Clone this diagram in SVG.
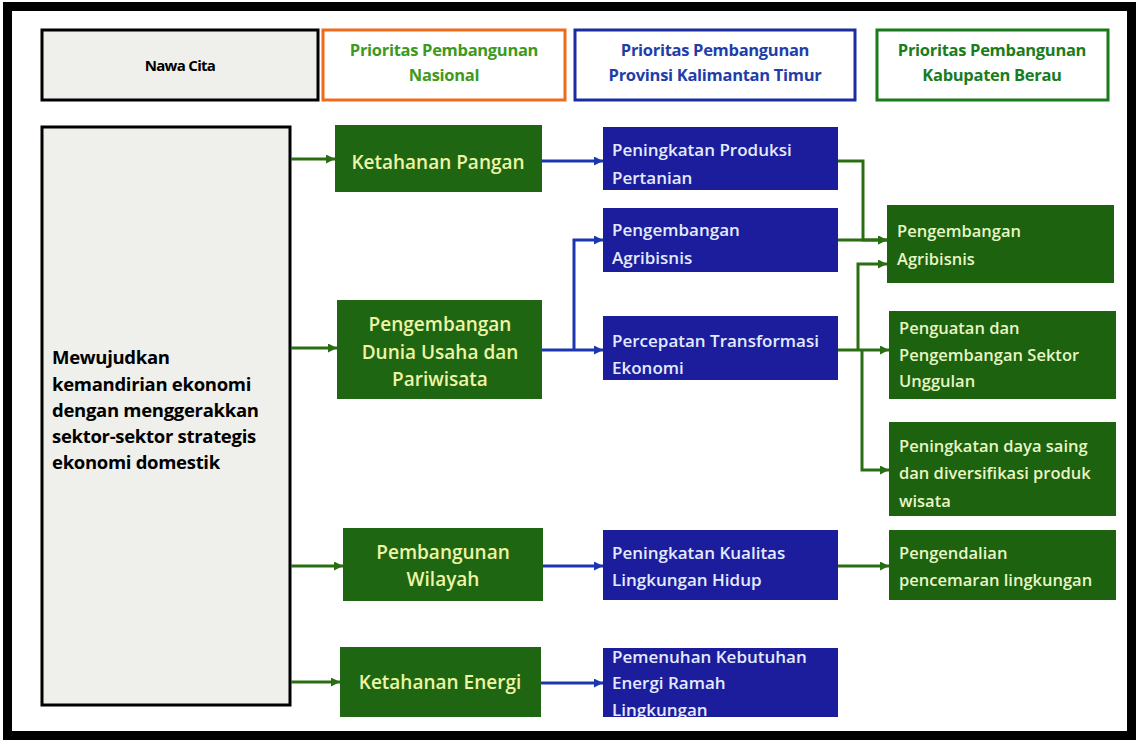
<svg xmlns="http://www.w3.org/2000/svg" width="1138" height="741" viewBox="0 0 1138 741">
<style>
.hdr{font-family:"Open Sans","Liberation Sans",sans-serif;font-weight:700;font-size:16.5px;text-anchor:middle;letter-spacing:-0.3px}
.gn rect{fill:#1f6612}
.gn text{font-family:"Open Sans","Liberation Sans",sans-serif;font-weight:600;font-size:19px;fill:#eef5a6;text-anchor:middle}
.bn rect{fill:#1b1d9c}
.bn text{font-family:"Open Sans","Liberation Sans",sans-serif;font-weight:600;font-size:17px;fill:#e4ebff}
.kn rect{fill:#1c620f}
.kn text{font-family:"Open Sans","Liberation Sans",sans-serif;font-weight:600;font-size:16.5px;fill:#e8f6c4}
.cg{fill:none;stroke:#2a6e14;stroke-width:3;marker-end:url(#ag)}
.cb{fill:none;stroke:#1c36b0;stroke-width:3;marker-end:url(#ab)}
</style>
<defs>
<marker id="ag" viewBox="0 0 10 10" refX="10" refY="5" markerWidth="3" markerHeight="3" markerUnits="strokeWidth" orient="auto"><path d="M0,0 L10,5 L0,10 z" fill="#2a6e14"/></marker>
<marker id="ab" viewBox="0 0 10 10" refX="10" refY="5" markerWidth="3" markerHeight="3" markerUnits="strokeWidth" orient="auto"><path d="M0,0 L10,5 L0,10 z" fill="#1c36b0"/></marker>
<clipPath id="clipE"><rect x="603" y="648" width="235" height="69"/></clipPath>
</defs>
<rect x="0" y="0" width="1138" height="741" fill="#ffffff"/>
<rect x="7.5" y="6.5" width="1124" height="729" fill="#ffffff" stroke="#000000" stroke-width="9"/>

<g id="h-nawacita">
<rect x="42" y="30" width="276" height="70" fill="#efefec" stroke="#000" stroke-width="3"/>
<text class="hdr" x="180" y="71" style="font-size:15px;letter-spacing:-0.7px" fill="#000">Nawa Cita</text>
</g>
<g id="h-nasional">
<rect x="323" y="30" width="242" height="70" fill="#fff" stroke="#ee6a1c" stroke-width="3"/>
<text class="hdr" x="444" y="56" fill="#3d9a1c">Prioritas Pembangunan</text>
<text class="hdr" x="444" y="81" fill="#3d9a1c">Nasional</text>
</g>
<g id="h-provinsi">
<rect x="575" y="30" width="280" height="70" fill="#fff" stroke="#1a2c9e" stroke-width="3"/>
<text class="hdr" x="715" y="56" fill="#1f3ea8">Prioritas Pembangunan</text>
<text class="hdr" x="715" y="81" fill="#1f3ea8">Provinsi Kalimantan Timur</text>
</g>
<g id="h-kabupaten">
<rect x="877" y="30" width="231" height="70" fill="#fff" stroke="#1a7a1a" stroke-width="3"/>
<text class="hdr" x="992" y="56" fill="#1b7c1b">Prioritas Pembangunan</text>
<text class="hdr" x="992" y="81" fill="#1b7c1b">Kabupaten Berau</text>
</g>

<g id="nawacita-main">
<rect x="42" y="127" width="248" height="578" fill="#efefec" stroke="#000" stroke-width="3"/>
<g font-family="'Open Sans','Liberation Sans',sans-serif" font-weight="700" font-size="18.5px" fill="#000" letter-spacing="-0.3">
<text x="52" y="364">Mewujudkan</text>
<text x="52" y="391">kemandirian ekonomi</text>
<text x="52" y="417">dengan menggerakkan</text>
<text x="52" y="443">sektor-sektor strategis</text>
<text x="52" y="469">ekonomi domestik</text>
</g>
</g>

<g id="connectors">
<path class="cg" d="M291,159 H335"/>
<path class="cg" d="M291,348 H337"/>
<path class="cg" d="M291,566 H343"/>
<path class="cg" d="M291,682 H340"/>
<path class="cb" d="M542,161 H603"/>
<path class="cb" d="M542,350 H603"/>
<path class="cb" d="M574,350 V240 H603"/>
<path class="cb" d="M543,566 H603"/>
<path class="cb" d="M541,683 H603"/>
<path class="cg" d="M838,161 H863 V240 H887"/>
<path class="cg" d="M838,240 H887"/>
<path class="cg" d="M838,350 H889"/>
<path class="cg" d="M858,350 V264 H887"/>
<path class="cg" d="M862,350 V470 H889"/>
<path class="cg" d="M838,566 H889"/>
</g>

<g id="n-ketahanan-pangan" class="gn">
<rect x="335" y="125" width="207" height="67"/>
<text x="438" y="169">Ketahanan Pangan</text>
</g>
<g id="n-dunia-usaha" class="gn">
<rect x="337" y="300" width="205" height="99"/>
<text x="440" y="331">Pengembangan</text>
<text x="440" y="359">Dunia Usaha dan</text>
<text x="440" y="386">Pariwisata</text>
</g>
<g id="n-pembangunan-wilayah" class="gn">
<rect x="343" y="528" width="200" height="73"/>
<text x="443" y="559">Pembangunan</text>
<text x="443" y="586">Wilayah</text>
</g>
<g id="n-ketahanan-energi" class="gn">
<rect x="340" y="647" width="201" height="70"/>
<text x="440" y="689">Ketahanan Energi</text>
</g>

<g id="p-produksi-pertanian" class="bn">
<rect x="603" y="127" width="235" height="63"/>
<text x="612" y="156">Peningkatan Produksi</text>
<text x="612" y="184">Pertanian</text>
</g>
<g id="p-agribisnis" class="bn">
<rect x="603" y="208" width="235" height="64"/>
<text x="612" y="236">Pengembangan</text>
<text x="612" y="264">Agribisnis</text>
</g>
<g id="p-transformasi" class="bn">
<rect x="603" y="316" width="235" height="64"/>
<text x="612" y="347">Percepatan Transformasi</text>
<text x="612" y="374">Ekonomi</text>
</g>
<g id="p-lingkungan-hidup" class="bn">
<rect x="603" y="530" width="235" height="70"/>
<text x="612" y="559">Peningkatan Kualitas</text>
<text x="612" y="586">Lingkungan Hidup</text>
</g>
<g id="p-energi" class="bn">
<rect x="603" y="648" width="235" height="69"/>
<g clip-path="url(#clipE)">
<text x="612" y="663">Pemenuhan Kebutuhan</text>
<text x="612" y="689">Energi Ramah</text>
<text x="612" y="716">Lingkungan</text>
</g>
</g>

<g id="k-agribisnis" class="kn">
<rect x="887" y="205" width="227" height="78"/>
<text x="897" y="237">Pengembangan</text>
<text x="897" y="265">Agribisnis</text>
</g>
<g id="k-sektor-unggulan" class="kn">
<rect x="889" y="311" width="227" height="88"/>
<text x="899" y="334">Penguatan dan</text>
<text x="899" y="361">Pengembangan Sektor</text>
<text x="899" y="387">Unggulan</text>
</g>
<g id="k-wisata" class="kn">
<rect x="889" y="422" width="227" height="94"/>
<text x="899" y="452">Peningkatan daya saing</text>
<text x="899" y="479">dan diversifikasi produk</text>
<text x="899" y="507">wisata</text>
</g>
<g id="k-pencemaran" class="kn">
<rect x="889" y="530" width="227" height="70"/>
<text x="899" y="559">Pengendalian</text>
<text x="899" y="586">pencemaran lingkungan</text>
</g>
</svg>
